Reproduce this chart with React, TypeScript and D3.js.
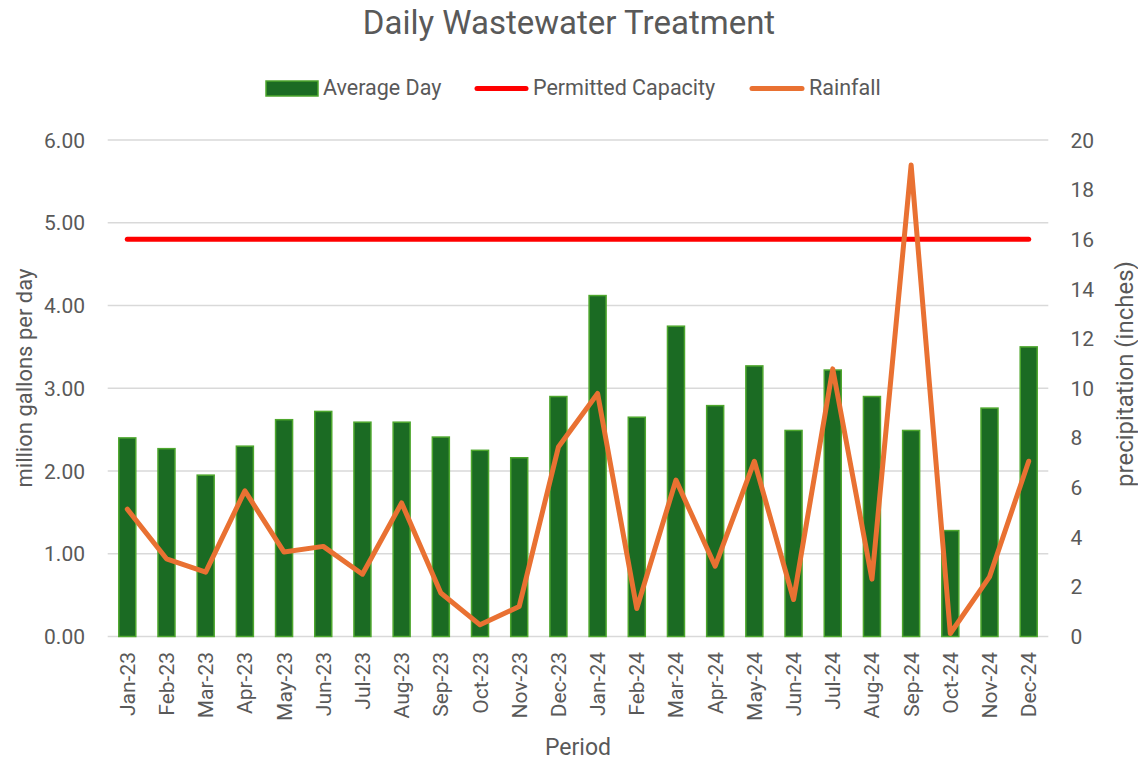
import React from "react";
import * as d3 from "d3";

const months = [
  "Jan-23","Feb-23","Mar-23","Apr-23","May-23","Jun-23","Jul-23","Aug-23","Sep-23","Oct-23","Nov-23","Dec-23",
  "Jan-24","Feb-24","Mar-24","Apr-24","May-24","Jun-24","Jul-24","Aug-24","Sep-24","Oct-24","Nov-24","Dec-24",
];
const averageDay = [
  2.40, 2.27, 1.95, 2.30, 2.62, 2.72, 2.59, 2.59, 2.41, 2.25, 2.16, 2.90,
  4.12, 2.65, 3.75, 2.79, 3.27, 2.49, 3.22, 2.90, 2.49, 1.28, 2.76, 3.50,
];
const permittedCapacity = [
  4.8, 4.8, 4.8, 4.8, 4.8, 4.8, 4.8, 4.8, 4.8, 4.8, 4.8, 4.8,
  4.8, 4.8, 4.8, 4.8, 4.8, 4.8, 4.8, 4.8, 4.8, 4.8, 4.8, 4.8,
];
const rainfall = [
  5.13, 3.13, 2.59, 5.87, 3.40, 3.63, 2.51, 5.38, 1.75, 0.47, 1.21, 7.63,
  9.79, 1.13, 6.30, 2.83, 7.06, 1.49, 10.78, 2.31, 18.99, 0.12, 2.40, 7.06,
];
const leftTicks = [0, 1, 2, 3, 4, 5, 6];
const rightTicks = [0, 2, 4, 6, 8, 10, 12, 14, 16, 18, 20];

const W = 1138;
const H = 761;
const TEXT = "#595959";
const FONT = "Roboto, 'Liberation Sans', Arial, sans-serif";

export default function App() {
  const x = d3.scaleBand<string>().domain(months).range([107.7, 1048.3]).paddingInner(0.566).paddingOuter(0.283);
  const yL = d3.scaleLinear().domain([0, 6]).range([636.5, 140]);
  const yR = d3.scaleLinear().domain([0, 20]).range([636.5, 140]);
  const cx = (m: string) => (x(m) as number) + x.bandwidth() / 2;

  const capLine = d3.line<number>().x((_, i) => cx(months[i])).y((d) => yL(d))(permittedCapacity) as string;
  const rainLine = d3.line<number>().x((_, i) => cx(months[i])).y((d) => yR(d))(rainfall) as string;

  return (
    <svg width={W} height={H} style={{ position: "absolute", left: 0, top: 0, background: "#fff" }} fontFamily={FONT}>
      <rect x={0} y={0} width={W} height={H} fill="#fff" />
      <text x={569} y={34.3} textAnchor="middle" fontSize={33} fill={TEXT}>Daily Wastewater Treatment</text>

      {/* legend */}
      <rect x={266} y={81} width={52} height={15} fill="#1b6b23" stroke="#4ea72e" strokeWidth={1.5} />
      <text x={323} y={95} fontSize={21.5} fill={TEXT}>Average Day</text>
      <line x1={477} x2={526} y1={88.5} y2={88.5} stroke="#ff0000" strokeWidth={5} strokeLinecap="round" />
      <text x={533} y={95} fontSize={21.5} fill={TEXT}>Permitted Capacity</text>
      <line x1={752} x2={802} y1={88.5} y2={88.5} stroke="#e97132" strokeWidth={5} strokeLinecap="round" />
      <text x={809} y={95} fontSize={21.5} fill={TEXT}>Rainfall</text>

      {/* gridlines */}
      {leftTicks.map((t) => (
        <line key={"g" + t} x1={107.7} x2={1048.3} y1={yL(t)} y2={yL(t)} stroke="#d9d9d9" strokeWidth={1.5} />
      ))}

      {/* left ticks */}
      {leftTicks.map((t) => (
        <text key={"l" + t} x={85} y={yL(t)} dy="0.36em" textAnchor="end" fontSize={21} fill={TEXT}>{t.toFixed(2)}</text>
      ))}
      {/* right ticks */}
      {rightTicks.map((t) => (
        <text key={"r" + t} x={1070.5} y={yR(t)} dy="0.36em" textAnchor="start" fontSize={21} fill={TEXT}>{t}</text>
      ))}

      {/* bars */}
      {months.map((m, i) => (
        <rect key={"b" + m} x={x(m)} y={yL(averageDay[i])} width={x.bandwidth()} height={yL(0) - yL(averageDay[i])}
          fill="#1b6b23" stroke="#4ea72e" strokeWidth={1.5} />
      ))}

      <path d={capLine} fill="none" stroke="#ff0000" strokeWidth={5} strokeLinecap="round" />
      <path d={rainLine} fill="none" stroke="#e97132" strokeWidth={5} strokeLinecap="round" strokeLinejoin="round" />

      {/* x labels */}
      {months.map((m) => (
        <text key={"x" + m} transform={`translate(${cx(m) + 7.5},652) rotate(-90)`} textAnchor="end" fontSize={21} fill={TEXT}>{m}</text>
      ))}

      {/* axis titles */}
      <text transform="translate(31.5,378) rotate(-90)" textAnchor="middle" fontSize={22} fill={TEXT}>million gallons per day</text>
      <text transform="translate(1132.5,374) rotate(-90)" textAnchor="middle" fontSize={24} fill={TEXT}>precipitation (inches)</text>
      <text x={578} y={755} textAnchor="middle" fontSize={23} fill={TEXT}>Period</text>
    </svg>
  );
}
